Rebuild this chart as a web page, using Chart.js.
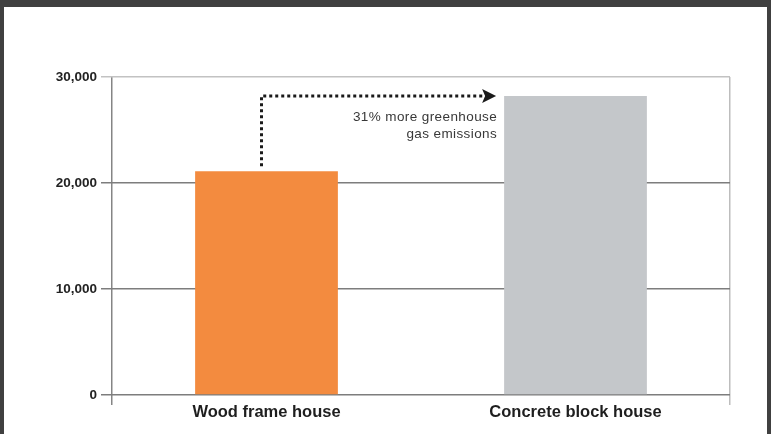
<!DOCTYPE html>
<html lang="en">
<head>
    <meta charset="UTF-8">
    <title>Greenhouse gas emissions by house type</title>
    <script src="https://cdn.jsdelivr.net/npm/chart.js"></script>
    <style>
        body {
            margin: 0;
            background: #404040;
            width: 771px;
            height: 434px;
            overflow: hidden;
        }

        .chart-box {
            position: absolute;
            left: 4px;
            top: 7px;
            width: 763px;
            height: 427px;
            background: #fff;
        }
    </style>
</head>
<body>
    <div class="chart-box">
        <canvas id="emissionsChart"></canvas>
    </div>

    <script>
        const categories = ['Wood frame house', 'Concrete block house'];
        const emissions = [21100, 28200];
        const barColors = ['#f38b3f', '#c4c7ca'];
        const yTicks = [0, 10000, 20000, 30000];
        const noteLines = ['31% more greenhouse', 'gas emissions'];

        const fontFamily = '"Liberation Sans", Arial, Helvetica, sans-serif';

        // dotted arrow from the wood bar over to the concrete bar, with the note under it
        const arrowNote = {
            id: 'arrowNote',
            afterDatasetsDraw(chart) {
                const ctx = chart.ctx;
                const bars = chart.getDatasetMeta(0).data;
                const wood = bars[0], concrete = bars[1];
                const yArrow = concrete.y;
                const tip = concrete.x - concrete.width / 2 - 8;

                ctx.save();
                ctx.strokeStyle = '#1a1a1a';
                ctx.lineWidth = 3;
                ctx.setLineDash([3, 3]);
                ctx.beginPath();
                ctx.moveTo(wood.x - 5, wood.y - 5);
                ctx.lineTo(wood.x - 5, yArrow);
                ctx.lineTo(tip - 12, yArrow);
                ctx.stroke();

                ctx.setLineDash([]);
                ctx.fillStyle = '#1a1a1a';
                ctx.beginPath();
                ctx.moveTo(tip, yArrow);
                ctx.lineTo(tip - 14, yArrow - 7);
                ctx.lineTo(tip - 11, yArrow);
                ctx.lineTo(tip - 14, yArrow + 7);
                ctx.closePath();
                ctx.fill();

                ctx.fillStyle = '#383838';
                ctx.font = '13.5px ' + fontFamily;
                ctx.letterSpacing = '0.4px';
                ctx.textAlign = 'right';
                ctx.textBaseline = 'middle';
                noteLines.forEach((line, i) => {
                    ctx.fillText(line, tip + 1, yArrow + 21 + i * 17);
                });
                ctx.restore();
            }
        };

        const ctx = document.getElementById('emissionsChart').getContext('2d');
        new Chart(ctx, {
            type: 'bar',
            data: {
                labels: categories,
                datasets: [{
                    data: emissions,
                    backgroundColor: barColors,
                    borderWidth: 0,
                    barPercentage: 0.462,
                    categoryPercentage: 1
                }]
            },
            options: {
                responsive: true,
                maintainAspectRatio: false,
                animation: false,
                layout: {
                    padding: { top: 70, right: 37, bottom: 0, left: 0 }
                },
                plugins: {
                    legend: { display: false },
                    tooltip: { enabled: false }
                },
                scales: {
                    x: {
                        border: { display: false },
                        grid: {
                            offset: true,
                            lineWidth: 1.5,
                            tickLength: 10,
                            color: c => c.type === 'scale' ? '#bdbdbd' : (c.index === 0 ? '#858585' : 'rgba(0,0,0,0)')
                        },
                        ticks: {
                            padding: -2,
                            color: '#1e1e1e',
                            font: { family: fontFamily, size: 16.5, weight: 'bold' }
                        },
                        afterFit: s => { s.height = 39; }
                    },
                    y: {
                        min: 0,
                        max: 30000,
                        border: { display: false },
                        grid: {
                            lineWidth: 1.5,
                            tickLength: 11,
                            color: c => c.tick && c.tick.value === 30000 ? '#c2c2c2' : '#7d7d7d'
                        },
                        afterBuildTicks: s => { s.ticks = yTicks.map(v => ({ value: v })); },
                        ticks: {
                            padding: 4,
                            color: '#222',
                            font: { family: fontFamily, size: 13.5, weight: 'bold' },
                            callback: v => v.toLocaleString('en-US')
                        },
                        afterFit: s => { s.width = 108; }
                    }
                }
            },
            plugins: [arrowNote]
        });
    </script>
</body>
</html>
